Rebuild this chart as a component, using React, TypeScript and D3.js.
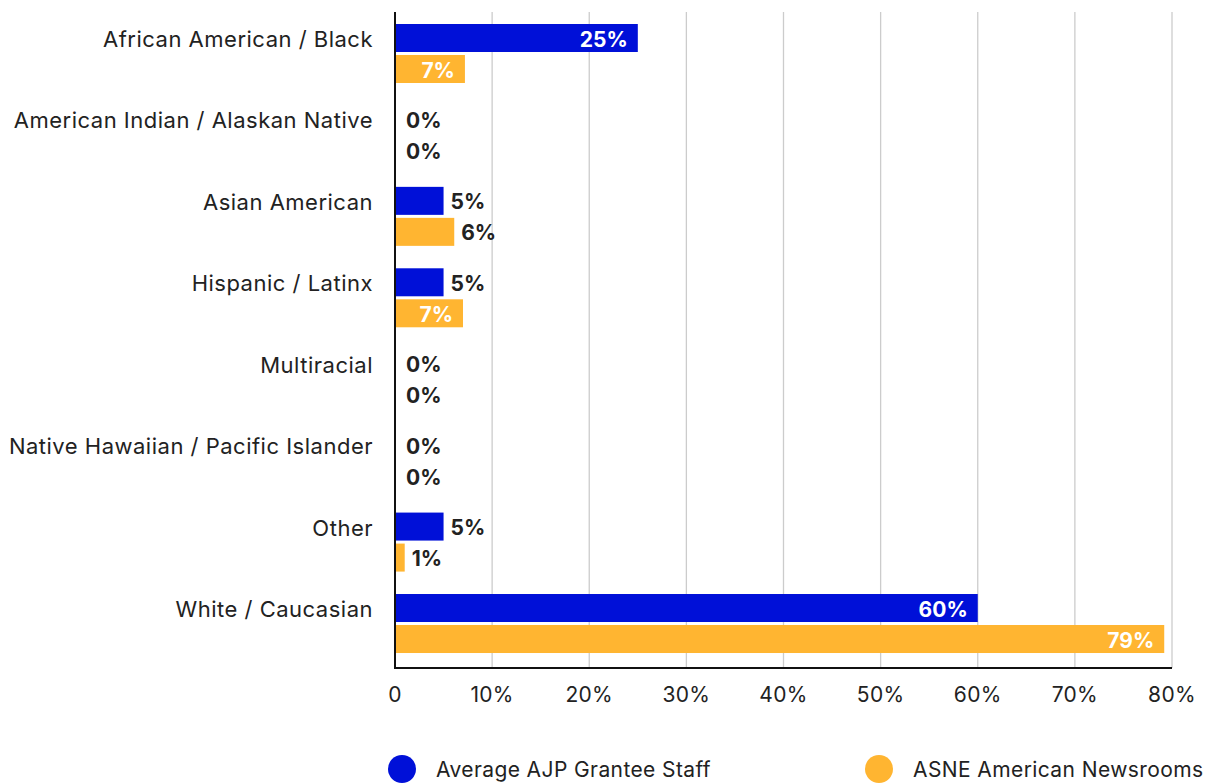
import React from "react";
import * as d3 from "d3";

const categories = [
  "African American / Black",
  "American Indian / Alaskan Native",
  "Asian American",
  "Hispanic / Latinx",
  "Multiracial",
  "Native Hawaiian / Pacific Islander",
  "Other",
  "White / Caucasian",
];
const ajpValues = [25, 0, 5, 5, 0, 0, 5, 60];
const asneValues = [7.2, 0, 6.1, 7.0, 0, 0, 1.0, 79.2];
const seriesNames = ["Average AJP Grantee Staff", "ASNE American Newsrooms"];
const seriesColors = ["#0010D8", "#FFB531"];
const xTicks = [0, 10, 20, 30, 40, 50, 60, 70, 80];

const W = 1207;
const H = 783;
const FONT = "Inter, 'Open Sans', sans-serif";

export default function App() {
  const left = 395;
  const right = 1172;
  const top = 12;
  const bottom = 668;
  const x = d3.scaleLinear().domain([0, 80]).range([left, right]);
  const step = 81.43;
  const inner = 22.43 / step;
  const bandStart = 24 - step * inner / 2;
  const y = d3
    .scaleBand<string>()
    .domain(categories)
    .range([bandStart, bandStart + step * categories.length])
    .paddingInner(inner)
    .paddingOuter(inner / 2);
  const barH = 28;
  const gap = 3;
  const series = [ajpValues, asneValues];

  return (
    <svg width={W} height={H} style={{ position: "absolute", left: 0, top: 0 }}>
      <rect width={W} height={H} fill="#fff" />
      {xTicks.slice(1).map((t) => (
        <line key={t} x1={x(t)} x2={x(t)} y1={top} y2={bottom} stroke="#ccc" strokeWidth={1.3} />
      ))}
      {categories.map((c, i) => {
        const y0 = y(c)!;
        return (
          <g key={c}>
            <text
              x={373}
              y={y0 + barH / 2 + 1}
              textAnchor="end"
              dominantBaseline="central"
              fontFamily={FONT}
              fontSize={22}
              letterSpacing={0.5}
              fill="#222"
            >
              {c}
            </text>
            {series.map((vals, s) => {
              const v = vals[i];
              const by = y0 + s * (barH + gap);
              const xe = x(v);
              const inside = v >= 7;
              const label = `${Math.round(v)}%`;
              return (
                <g key={s}>
                  {v > 0 && (
                    <rect x={x(0)} y={by} width={xe - x(0)} height={barH} fill={seriesColors[s]} />
                  )}
                  <text
                    x={inside ? xe - 10 : xe + (v > 0 ? 7 : 11)}
                    y={by + barH / 2 + 1}
                    textAnchor={inside ? "end" : "start"}
                    dominantBaseline="central"
                    fontFamily={FONT}
                    fontSize={21}
                    fontWeight="bold"
                    fill={inside ? "#fff" : "#222"}
                  >
                    {label}
                  </text>
                </g>
              );
            })}
          </g>
        );
      })}
      <line x1={left} x2={left} y1={top} y2={bottom + 1} stroke="#111" strokeWidth={2} />
      <line x1={left - 1} x2={right} y1={bottom} y2={bottom} stroke="#111" strokeWidth={2} />
      {xTicks.map((t) => (
        <text
          key={t}
          x={x(t)}
          y={694}
          textAnchor="middle"
          dominantBaseline="central"
          fontFamily={FONT}
          fontSize={21}
          letterSpacing={0.3}
          fill="#222"
        >
          {t === 0 ? "0" : `${t}%`}
        </text>
      ))}
      {seriesNames.map((n, s) => {
        const cx = s === 0 ? 402 : 879;
        return (
          <g key={n}>
            <circle cx={cx} cy={769} r={14} fill={seriesColors[s]} />
            <text
              x={cx + 34}
              y={769}
              dominantBaseline="central"
              fontFamily={FONT}
              fontSize={21}
              letterSpacing={0.4}
              fill="#222"
            >
              {n}
            </text>
          </g>
        );
      })}
    </svg>
  );
}
